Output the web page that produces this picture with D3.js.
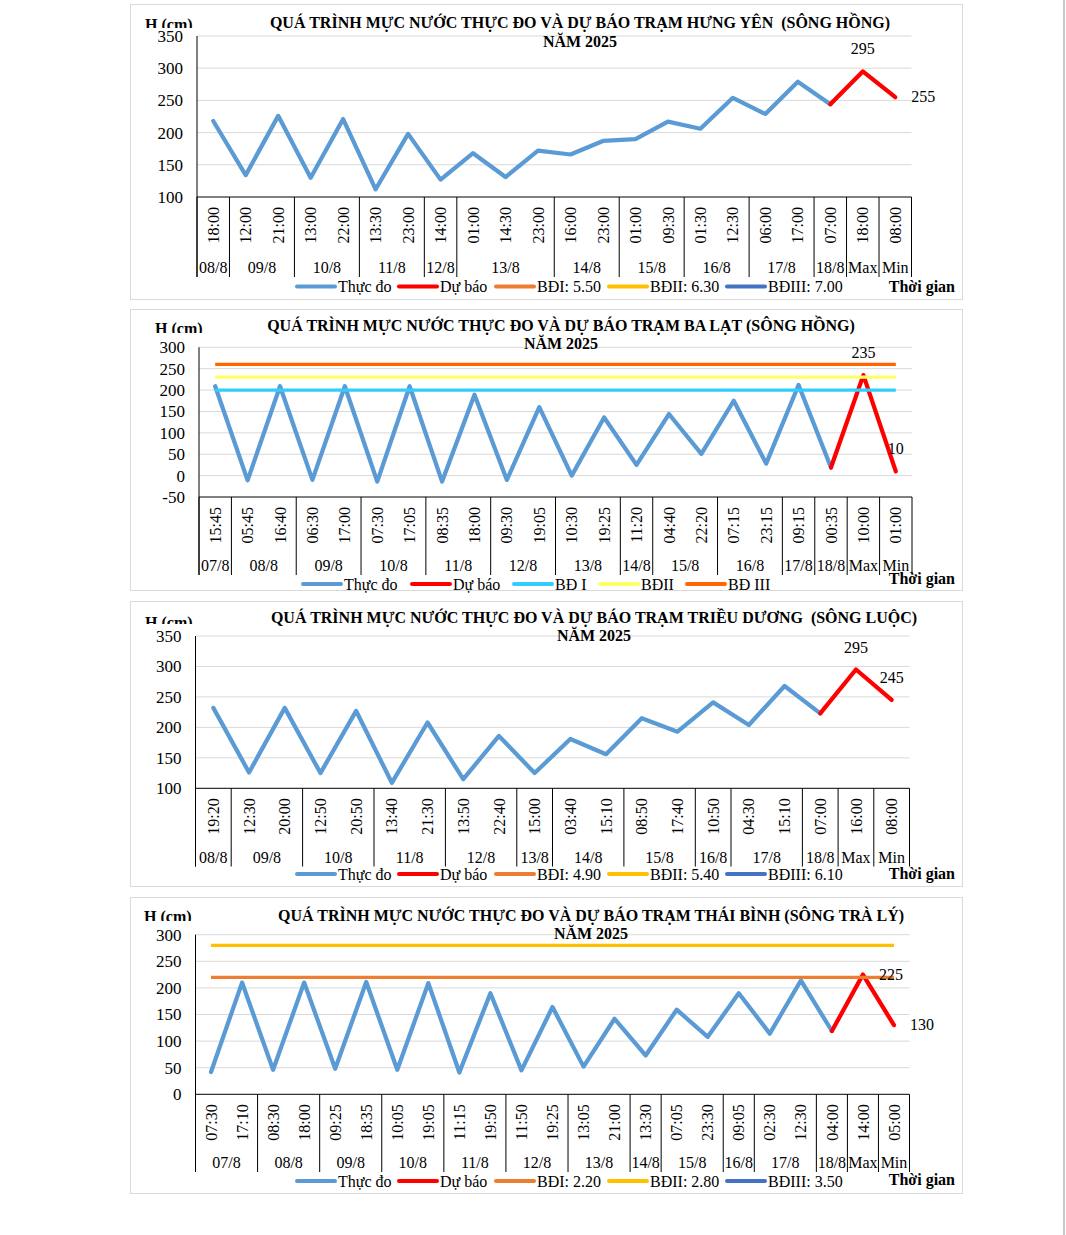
<!DOCTYPE html>
<html>
<head>
<meta charset="utf-8">
<script src="https://cdn.jsdelivr.net/npm/d3@7"></script>
<style>
  body { margin: 0; background: #fff; }
  svg text { font-family: "Liberation Serif", "Times New Roman", serif; }
</style>
</head>
<body>
<div id="page"></div>
<script>
// Biểu đồ mực nước thực đo và dự báo - 4 trạm, năm 2025

// --- Trạm Hưng Yên (Sông Hồng)
const hyTimes = ["18:00", "12:00", "21:00", "13:00", "22:00", "13:30", "23:00", "14:00", "01:00", "14:30", "23:00",
  "16:00", "23:00", "01:00", "09:30", "01:30", "12:30", "06:00", "17:00", "07:00", "18:00", "08:00"];
const hyDays = ["08/8", "09/8", "09/8", "10/8", "10/8", "11/8", "11/8", "12/8", "13/8", "13/8", "13/8",
  "14/8", "14/8", "15/8", "15/8", "16/8", "16/8", "17/8", "17/8", "18/8", "Max", "Min"];
const hyMeasured = [218, 134, 226, 130, 221, 112, 198, 127, 168, 131, 172, 166, 187, 190, 217, 206, 254, 229, 279, 244];
const hyForecast = [244, 295, 255];
const hyAlarms = [550, 630, 700];
const hyLegend = ["Thực đo", "Dự báo", "BĐI: 5.50", "BĐII: 6.30", "BĐIII: 7.00"];

// --- Trạm Ba Lạt (Sông Hồng)
const blTimes = ["15:45", "05:45", "16:40", "06:30", "17:00", "07:30", "17:05", "08:35", "18:00", "09:30", "19:05",
  "10:30", "19:25", "11:20", "04:40", "22:20", "07:15", "23:15", "09:15", "00:35", "10:00", "01:00"];
const blDays = ["07/8", "08/8", "08/8", "09/8", "09/8", "10/8", "10/8", "11/8", "11/8", "12/8", "12/8",
  "13/8", "13/8", "14/8", "15/8", "15/8", "16/8", "16/8", "17/8", "18/8", "Max", "Min"];
const blMeasured = [209, -11, 209, -10, 209, -14, 209, -14, 189, -10, 160, 0, 136, 25, 144, 51, 175, 28, 212, 19];
const blForecast = [19, 235, 10];
const blAlarms = [200, 230, 260];
const blLegend = ["Thực đo", "Dự báo", "BĐ I", "BĐII", "BĐ III"];

// --- Trạm Triều Dương (Sông Luộc)
const tdTimes = ["19:20", "12:30", "20:00", "12:50", "20:50", "13:40", "21:30", "13:50", "22:40", "15:00",
  "03:40", "15:10", "08:50", "17:40", "10:50", "04:30", "15:10", "07:00", "16:00", "08:00"];
const tdDays = ["08/8", "09/8", "09/8", "10/8", "10/8", "11/8", "11/8", "12/8", "12/8", "13/8",
  "14/8", "14/8", "15/8", "15/8", "16/8", "17/8", "17/8", "18/8", "Max", "Min"];
const tdMeasured = [232, 126, 232, 125, 227, 109, 208, 115, 186, 125, 181, 156, 215, 193, 241, 204, 268, 223];
const tdForecast = [223, 295, 245];
const tdAlarms = [490, 540, 610];
const tdLegend = ["Thực đo", "Dự báo", "BĐI: 4.90", "BĐII: 5.40", "BĐIII: 6.10"];

// --- Trạm Thái Bình (Sông Trà Lý)
const tbTimes = ["07:30", "17:10", "08:30", "18:00", "09:25", "18:35", "10:05", "19:05", "11:15", "19:50", "11:50", "19:25",
  "13:05", "21:00", "13:30", "07:05", "23:30", "09:05", "02:30", "12:30", "04:00", "14:00", "05:00"];
const tbDays = ["07/8", "07/8", "08/8", "08/8", "09/8", "09/8", "10/8", "10/8", "11/8", "11/8", "12/8", "12/8",
  "13/8", "13/8", "14/8", "15/8", "15/8", "16/8", "17/8", "17/8", "18/8", "Max", "Min"];
const tbMeasured = [42, 210, 46, 210, 48, 211, 46, 209, 41, 190, 45, 164, 52, 142, 73, 159, 108, 190, 114, 214, 119];
const tbForecast = [119, 225, 130];
const tbAlarms = [220, 280, 350];
const tbLegend = ["Thực đo", "Dự báo", "BĐI: 2.20", "BĐII: 2.80", "BĐIII: 3.50"];

const FONT = "'Liberation Serif', 'Times New Roman', serif";
const W = 1066, H = 1235;
const colorsStd = ["#5b9bd5", "#ff0000", "#ed7d31", "#ffc000", "#4472c4"];
const colorsBL = ["#5b9bd5", "#ff0000", "#33ccff", "#ffff66", "#ff6600"];

const svg = d3.select("#page").append("svg")
  .attr("width", W).attr("height", H)
  .attr("viewBox", `0 0 ${W} ${H}`);

// thin page edge at the right
svg.append("line")
  .attr("x1", 1064).attr("x2", 1064).attr("y1", 0).attr("y2", H)
  .attr("stroke", "#c8c8c8").attr("stroke-width", 2);

function drawChart(c, idx) {
  const g = svg.append("g");
  const n = c.times.length;

  // frame
  g.append("rect")
    .attr("x", 130.5).attr("y", c.box[0] + 0.5)
    .attr("width", 832).attr("height", c.box[1] - c.box[0])
    .attr("fill", "none").attr("stroke", "#d9d9d9");

  const x = d3.scaleBand().domain(d3.range(n)).range([c.left, c.right]);
  const cx = (i) => x(i) + x.bandwidth() / 2;
  const y = d3.scaleLinear().domain(c.yDomain).range([c.bottom, c.top]);
  const ticks = d3.range(c.yDomain[0], c.yDomain[1] + 1, 50);

  // gridlines
  g.append("g").selectAll("line")
    .data(ticks.slice(1))
    .join("line")
    .attr("x1", c.left).attr("x2", c.right)
    .attr("y1", (d) => y(d)).attr("y2", (d) => y(d))
    .attr("stroke", "#d9d9d9").attr("stroke-width", 1);

  // y axis labels
  const ya = g.append("g")
    .attr("transform", `translate(${c.left},0)`)
    .call(d3.axisLeft(y).tickValues(ticks).tickSize(0).tickPadding(14).tickFormat((d) => String(d)));
  ya.select(".domain").remove();
  ya.selectAll("text")
    .attr("font-family", FONT).attr("font-size", 17).attr("fill", "#000");

  // axis lines
  g.append("line")
    .attr("x1", c.left).attr("x2", c.left).attr("y1", y(c.yDomain[1])).attr("y2", c.groupBottom)
    .attr("stroke", "#000");
  g.append("line")
    .attr("x1", c.left).attr("x2", c.right).attr("y1", c.bottom).attr("y2", c.bottom)
    .attr("stroke", "#000");

  // day groups
  const groups = [];
  c.days.forEach((d, i) => {
    if (i === 0 || d !== c.days[i - 1]) groups.push({ label: d, start: i, end: i });
    else groups[groups.length - 1].end = i;
  });
  const bounds = groups.map((gr) => x(gr.start)).concat([c.right]);
  g.append("g").selectAll("line")
    .data(bounds)
    .join("line")
    .attr("x1", (d) => d).attr("x2", (d) => d)
    .attr("y1", c.bottom).attr("y2", c.groupBottom)
    .attr("stroke", "#000");
  g.append("g").selectAll("text")
    .data(groups)
    .join("text")
    .attr("x", (d) => (x(d.start) + x(d.end) + x.bandwidth()) / 2)
    .attr("y", c.groupBottom - 4)
    .attr("text-anchor", "middle")
    .attr("font-size", 16)
    .text((d) => d.label);

  // time labels (rotated)
  g.append("g").selectAll("text")
    .data(c.times)
    .join("text")
    .attr("transform", (d, i) => `translate(${cx(i)},${c.bottom + 10}) rotate(-90)`)
    .attr("text-anchor", "end")
    .attr("dy", "0.35em")
    .attr("font-size", 16)
    .text((d) => d);

  const line = d3.line().x((d) => cx(d.i)).y((d) => y(d.v)).curve(d3.curveLinear);

  // measured
  g.append("path")
    .datum(c.measured.map((v, i) => ({ i, v })))
    .attr("d", line)
    .attr("fill", "none").attr("stroke", c.colors[0]).attr("stroke-width", 4.25)
    .attr("stroke-linejoin", "round").attr("stroke-linecap", "round");

  // forecast
  const f0 = n - c.forecast.length;
  const fData = c.forecast.map((v, k) => ({ i: f0 + k, v }));
  g.append("path")
    .datum(fData)
    .attr("d", line)
    .attr("fill", "none").attr("stroke", c.colors[1]).attr("stroke-width", 4.25)
    .attr("stroke-linejoin", "round").attr("stroke-linecap", "round");

  // alarm levels that fall inside the axis range
  c.alarms.forEach((lv, k) => {
    if (lv < c.yDomain[0] || lv > c.yDomain[1]) return;
    g.append("line")
      .attr("x1", cx(0)).attr("x2", cx(n - 1))
      .attr("y1", y(lv)).attr("y2", y(lv))
      .attr("stroke", c.colors[2 + k]).attr("stroke-width", 3.25);
  });

  // data labels for Max / Min
  [fData[1], fData[2]].forEach((d, k) => {
    const pos = c.labelPos[k];
    g.append("text")
      .attr("x", pos === "above" ? cx(d.i) : cx(d.i) + 16)
      .attr("y", pos === "above" ? y(d.v) - 17 : y(d.v) + 5)
      .attr("text-anchor", pos === "above" ? "middle" : "start")
      .attr("font-size", 16)
      .text(d.v);
  });

  // titles
  g.append("text")
    .attr("x", c.titleX).attr("y", c.titleY)
    .attr("text-anchor", "middle").attr("font-weight", "bold").attr("font-size", 16)
    .style("white-space", "pre")
    .text(c.title);
  g.append("text")
    .attr("x", c.titleX).attr("y", c.titleY + c.titleGap)
    .attr("text-anchor", "middle").attr("font-weight", "bold").attr("font-size", 16)
    .text("NĂM 2025");

  // axis title, clipped at the top of the value labels
  const clipId = "hclip" + idx;
  svg.append("clipPath").attr("id", clipId)
    .append("rect").attr("x", 130).attr("y", c.box[0]).attr("width", 100).attr("height", c.hClip - c.box[0]);
  g.append("text")
    .attr("x", c.hX).attr("y", c.hY)
    .attr("font-weight", "bold").attr("font-size", 16)
    .attr("clip-path", `url(#${clipId})`)
    .text("H (cm)");

  // legend
  c.legend.forEach((name, k) => {
    const lx = c.legendX[k];
    g.append("line")
      .attr("x1", lx).attr("x2", lx + 38)
      .attr("y1", c.legendY).attr("y2", c.legendY)
      .attr("stroke", c.colors[k]).attr("stroke-width", 4)
      .attr("stroke-linecap", "round");
    g.append("text")
      .attr("x", lx + 41).attr("y", c.legendY)
      .attr("dy", "0.35em").attr("font-size", 16)
      .text(name);
  });

  g.append("text")
    .attr("x", 955).attr("y", c.tgY)
    .attr("text-anchor", "end").attr("font-weight", "bold").attr("font-size", 16)
    .text("Thời gian");
}

const charts = [
  {
    box: [4, 299], left: 197, right: 911.5, top: 36, bottom: 197, groupBottom: 277, yDomain: [100, 350],
    times: hyTimes, days: hyDays, measured: hyMeasured, forecast: hyForecast, alarms: hyAlarms,
    legend: hyLegend, colors: colorsStd, legendX: [297, 399, 496, 609, 727], legendY: 286.5, tgY: 292,
    title: "QUÁ TRÌNH MỰC NƯỚC THỰC ĐO VÀ DỰ BÁO TRẠM HƯNG YÊN  (SÔNG HỒNG)",
    titleX: 580, titleY: 28, titleGap: 18.5, hX: 145, hY: 29.5, hClip: 28, labelPos: ["above", "right"]
  },
  {
    box: [309, 590], left: 199, right: 912, top: 347.3, bottom: 497, groupBottom: 575, yDomain: [-50, 300],
    times: blTimes, days: blDays, measured: blMeasured, forecast: blForecast, alarms: blAlarms,
    legend: blLegend, colors: colorsBL, legendX: [303, 412, 514, 600, 687], legendY: 584, tgY: 583.5,
    title: "QUÁ TRÌNH MỰC NƯỚC THỰC ĐO VÀ DỰ BÁO TRẠM BA LẠT (SÔNG HỒNG)",
    titleX: 561, titleY: 331, titleGap: 17.5, hX: 155, hY: 334, hClip: 333, labelPos: ["above", "above"]
  },
  {
    box: [601, 886], left: 195.5, right: 909.5, top: 636, bottom: 788.3, groupBottom: 866.5, yDomain: [100, 350],
    times: tdTimes, days: tdDays, measured: tdMeasured, forecast: tdForecast, alarms: tdAlarms,
    legend: tdLegend, colors: colorsStd, legendX: [297, 399, 496, 609, 727], legendY: 874, tgY: 879,
    title: "QUÁ TRÌNH MỰC NƯỚC THỰC ĐO VÀ DỰ BÁO TRẠM TRIỀU DƯƠNG  (SÔNG LUỘC)",
    titleX: 594, titleY: 622.5, titleGap: 18, hX: 145, hY: 627.5, hClip: 624, labelPos: ["above", "above"]
  },
  {
    box: [897, 1193], left: 195.5, right: 909.5, top: 934.7, bottom: 1094.3, groupBottom: 1172, yDomain: [0, 300],
    times: tbTimes, days: tbDays, measured: tbMeasured, forecast: tbForecast, alarms: tbAlarms,
    legend: tbLegend, colors: colorsStd, legendX: [297, 399, 496, 609, 727], legendY: 1181, tgY: 1185,
    title: "QUÁ TRÌNH MỰC NƯỚC THỰC ĐO VÀ DỰ BÁO TRẠM THÁI BÌNH (SÔNG TRÀ LÝ)",
    titleX: 591, titleY: 921, titleGap: 17.7, hX: 144, hY: 921.5, hClip: 921, labelPos: ["right", "right"]
  }
];

charts.forEach((c, i) => drawChart(c, i));
</script>
</body>
</html>
